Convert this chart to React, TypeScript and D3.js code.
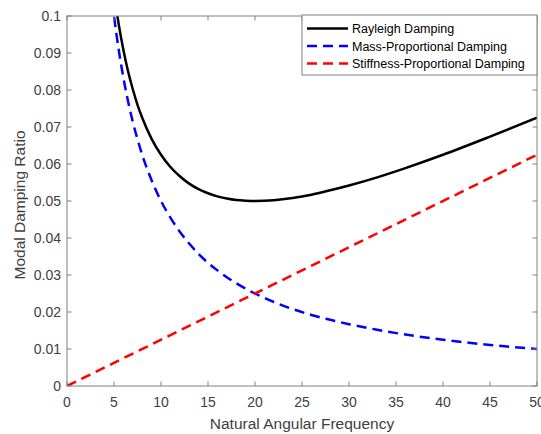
import React, { useEffect, useRef } from "react";
import * as d3 from "d3";

// values
const omega = [4.8, 5, 5.5, 6, 6.5, 7, 7.5, 8, 9, 10, 11, 12, 13, 14, 15, 16, 17, 18, 19, 20, 22, 24, 26, 28, 30, 33, 36, 40, 45, 50];
const massRatio = [0.104, 0.1, 0.0909, 0.0833, 0.0769, 0.0714, 0.0667, 0.0625, 0.0556, 0.05, 0.0455, 0.0417, 0.0385, 0.0357, 0.0333, 0.03125, 0.0294, 0.0278, 0.0263, 0.025, 0.0227, 0.0208, 0.0192, 0.0179, 0.0167, 0.0152, 0.0139, 0.0125, 0.0111, 0.01];
const rayleighRatio = [0.11, 0.1063, 0.0978, 0.0908, 0.085, 0.0802, 0.076, 0.0725, 0.0668, 0.0625, 0.0592, 0.0567, 0.0547, 0.0532, 0.0521, 0.05125, 0.0507, 0.0503, 0.0501, 0.05, 0.0502, 0.0508, 0.0517, 0.0529, 0.0542, 0.0564, 0.0589, 0.0625, 0.0674, 0.0725];
const stiffOmega = [0, 50];
const stiffRatio = [0, 0.0625];

const xTicks = [0, 5, 10, 15, 20, 25, 30, 35, 40, 45, 50];
const yTicks = [0, 0.01, 0.02, 0.03, 0.04, 0.05, 0.06, 0.07, 0.08, 0.09, 0.1];

const seriesNames = ["Rayleigh Damping", "Mass-Proportional Damping", "Stiffness-Proportional Damping"];
const seriesColors = ["#000000", "#0000ff", "#ff0000"];

const W = 541;
const H = 434;
const m = { left: 67, right: 537, top: 16, bottom: 386 };
const font = "'Liberation Sans', Arial, Helvetica, sans-serif";
const axisCol = "#808080";
const textCol = "#404040";

export default function App() {
  const ref = useRef<SVGSVGElement | null>(null);

  useEffect(() => {
    const svg = d3.select(ref.current);
    svg.selectAll("*").remove();

    const x = d3.scaleLinear().domain([0, 50]).range([m.left, m.right]);
    const y = d3.scaleLinear().domain([0, 0.1]).range([m.bottom, m.top]);

    svg.append("rect").attr("width", W).attr("height", H).attr("fill", "#fff");

    svg.append("clipPath").attr("id", "plotclip")
      .append("rect")
      .attr("x", m.left).attr("y", m.top)
      .attr("width", m.right - m.left).attr("height", m.bottom - m.top);

    const line = d3.line<[number, number]>()
      .x(d => x(d[0]))
      .y(d => y(d[1]))
      .curve(d3.curveMonotoneX);

    const g = svg.append("g").attr("clip-path", "url(#plotclip)");

    g.append("path")
      .attr("d", line(omega.map((w, i) => [w, rayleighRatio[i]] as [number, number])))
      .attr("fill", "none").attr("stroke", seriesColors[0]).attr("stroke-width", 2.5);

    g.append("path")
      .attr("d", line(omega.map((w, i) => [w, massRatio[i]] as [number, number])))
      .attr("fill", "none").attr("stroke", seriesColors[1]).attr("stroke-width", 2.5)
      .attr("stroke-dasharray", "10,6");

    g.append("path")
      .attr("d", line(stiffOmega.map((w, i) => [w, stiffRatio[i]] as [number, number])))
      .attr("fill", "none").attr("stroke", seriesColors[2]).attr("stroke-width", 2.5)
      .attr("stroke-dasharray", "10,6");

    // box and ticks
    svg.append("rect")
      .attr("x", m.left).attr("y", m.top)
      .attr("width", m.right - m.left).attr("height", m.bottom - m.top)
      .attr("fill", "none").attr("stroke", axisCol).attr("stroke-width", 1);

    const tl = 4.5;
    xTicks.forEach(t => {
      svg.append("line").attr("x1", x(t)).attr("x2", x(t)).attr("y1", m.bottom).attr("y2", m.bottom - tl).attr("stroke", axisCol);
      svg.append("line").attr("x1", x(t)).attr("x2", x(t)).attr("y1", m.top).attr("y2", m.top + tl).attr("stroke", axisCol);
      svg.append("text").attr("x", x(t)).attr("y", m.bottom + 21)
        .attr("text-anchor", "middle").attr("font-family", font).attr("font-size", 14).attr("fill", textCol)
        .text(String(t));
    });
    yTicks.forEach(t => {
      svg.append("line").attr("x1", m.left).attr("x2", m.left + tl).attr("y1", y(t)).attr("y2", y(t)).attr("stroke", axisCol);
      svg.append("line").attr("x1", m.right).attr("x2", m.right - tl).attr("y1", y(t)).attr("y2", y(t)).attr("stroke", axisCol);
      svg.append("text").attr("x", m.left - 6).attr("y", y(t) + 5)
        .attr("text-anchor", "end").attr("font-family", font).attr("font-size", 14).attr("fill", textCol)
        .text(d3.format("~g")(+t.toFixed(2)));
    });

    svg.append("text").attr("x", 302).attr("y", 429)
      .attr("text-anchor", "middle").attr("font-family", font).attr("font-size", 15.5).attr("fill", textCol)
      .text("Natural Angular Frequency");
    svg.append("text")
      .attr("transform", `translate(25,205) rotate(-90)`)
      .attr("text-anchor", "middle").attr("font-family", font).attr("font-size", 15.5).attr("fill", textCol)
      .text("Modal Damping Ratio");

    // legend
    const lg = svg.append("g");
    lg.append("rect").attr("x", 302).attr("y", m.top - 1).attr("width", m.right - 302).attr("height", 60)
      .attr("fill", "#fff").attr("stroke", axisCol);
    seriesNames.forEach((name, i) => {
      const yy = 28.5 + i * 17.5;
      lg.append("line").attr("x1", 307).attr("x2", 348).attr("y1", yy).attr("y2", yy)
        .attr("stroke", seriesColors[i]).attr("stroke-width", 2.5)
        .attr("stroke-dasharray", i === 0 ? null : "10,6");
      lg.append("text").attr("x", 352).attr("y", yy + 4.5)
        .attr("font-family", font).attr("font-size", 12.5).attr("fill", "#000")
        .text(name);
    });
  }, []);

  return (
    <svg ref={ref} width={W} height={H} style={{ position: "absolute", left: 0, top: 0 }} />
  );
}
